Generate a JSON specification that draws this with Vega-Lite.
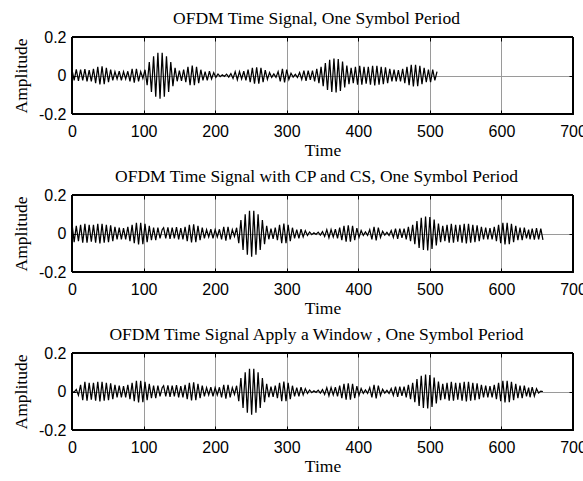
{
"$schema": "https://vega.github.io/schema/vega-lite/v6.json",
"background": "white",
"padding": {"left": 11, "top": 9, "right": 0, "bottom": 0},
"config": {
 "view": {"stroke": "black", "strokeWidth": 1},
 "axis": {"domain": true, "domainColor": "black", "domainWidth": 1, "ticks": true, "grid": false, "labelFont": "Liberation Sans", "labelFontSize": 16, "labelColor": "black", "tickColor": "black", "tickSize": -4, "titleFont": "Liberation Serif", "titleFontSize": 17.5, "titleFontWeight": "normal", "titleColor": "black", "labelFlush": false, "labelOverlap": false},
 "title": {"font": "Liberation Serif", "fontSize": 17.5, "fontWeight": "normal", "color": "black", "anchor": "middle", "frame": "group", "baseline": "alphabetic", "offset": 2, "dx": -6}
},
"datasets": {
"s1": [{"t":0,"a":0.03},{"t":3,"a":-0.025},{"t":6,"a":0.032},{"t":9,"a":-0.028},{"t":12,"a":0.03},{"t":15,"a":-0.025},{"t":18,"a":0.033},{"t":21,"a":-0.03},{"t":24,"a":0.028},{"t":27,"a":-0.03},{"t":30,"a":0.035},{"t":33,"a":-0.04},{"t":36,"a":0.045},{"t":39,"a":-0.047},{"t":42,"a":0.048},{"t":45,"a":-0.045},{"t":48,"a":0.04},{"t":51,"a":-0.035},{"t":54,"a":0.03},{"t":57,"a":-0.025},{"t":60,"a":0.02},{"t":63,"a":-0.018},{"t":66,"a":0.022},{"t":69,"a":-0.025},{"t":72,"a":0.02},{"t":75,"a":-0.018},{"t":78,"a":0.022},{"t":81,"a":-0.03},{"t":84,"a":0.035},{"t":87,"a":-0.037},{"t":90,"a":0.035},{"t":93,"a":-0.03},{"t":96,"a":0.02},{"t":99,"a":-0.015},{"t":102,"a":0.03},{"t":105,"a":-0.05},{"t":108,"a":0.07},{"t":111,"a":-0.085},{"t":114,"a":0.1},{"t":117,"a":-0.11},{"t":120,"a":0.118},{"t":123,"a":-0.12},{"t":126,"a":0.118},{"t":129,"a":-0.11},{"t":132,"a":0.1},{"t":135,"a":-0.085},{"t":138,"a":0.07},{"t":141,"a":-0.055},{"t":144,"a":0.04},{"t":147,"a":-0.03},{"t":150,"a":0.025},{"t":153,"a":-0.028},{"t":156,"a":0.03},{"t":159,"a":-0.035},{"t":162,"a":0.045},{"t":165,"a":-0.05},{"t":168,"a":0.052},{"t":171,"a":-0.05},{"t":174,"a":0.045},{"t":177,"a":-0.04},{"t":180,"a":0.03},{"t":183,"a":-0.025},{"t":186,"a":0.02},{"t":189,"a":-0.025},{"t":192,"a":0.022},{"t":195,"a":-0.018},{"t":198,"a":0.015},{"t":201,"a":-0.01},{"t":204,"a":0.008},{"t":207,"a":-0.006},{"t":210,"a":0.004},{"t":213,"a":-0.005},{"t":216,"a":0.007},{"t":219,"a":-0.008},{"t":222,"a":0.01},{"t":225,"a":-0.015},{"t":228,"a":0.02},{"t":231,"a":-0.022},{"t":234,"a":0.02},{"t":237,"a":-0.018},{"t":240,"a":0.022},{"t":243,"a":-0.025},{"t":246,"a":0.03},{"t":249,"a":-0.035},{"t":252,"a":0.04},{"t":255,"a":-0.042},{"t":258,"a":0.043},{"t":261,"a":-0.042},{"t":264,"a":0.04},{"t":267,"a":-0.035},{"t":270,"a":0.028},{"t":273,"a":-0.02},{"t":276,"a":0.015},{"t":279,"a":-0.01},{"t":282,"a":0.008},{"t":285,"a":-0.01},{"t":288,"a":0.02},{"t":291,"a":-0.03},{"t":294,"a":0.035},{"t":297,"a":-0.036},{"t":300,"a":0.03},{"t":303,"a":-0.02},{"t":306,"a":0.012},{"t":309,"a":-0.008},{"t":312,"a":0.006},{"t":315,"a":-0.01},{"t":318,"a":0.015},{"t":321,"a":-0.02},{"t":324,"a":0.025},{"t":327,"a":-0.028},{"t":330,"a":0.025},{"t":333,"a":-0.022},{"t":336,"a":0.025},{"t":339,"a":-0.03},{"t":342,"a":0.035},{"t":345,"a":-0.04},{"t":348,"a":0.045},{"t":351,"a":-0.055},{"t":354,"a":0.065},{"t":357,"a":-0.075},{"t":360,"a":0.082},{"t":363,"a":-0.086},{"t":366,"a":0.088},{"t":369,"a":-0.088},{"t":372,"a":0.085},{"t":375,"a":-0.08},{"t":378,"a":0.072},{"t":381,"a":-0.062},{"t":384,"a":0.052},{"t":387,"a":-0.045},{"t":390,"a":0.04},{"t":393,"a":-0.04},{"t":396,"a":0.045},{"t":399,"a":-0.048},{"t":402,"a":0.05},{"t":405,"a":-0.048},{"t":408,"a":0.045},{"t":411,"a":-0.042},{"t":414,"a":0.045},{"t":417,"a":-0.048},{"t":420,"a":0.05},{"t":423,"a":-0.052},{"t":426,"a":0.05},{"t":429,"a":-0.048},{"t":432,"a":0.045},{"t":435,"a":-0.045},{"t":438,"a":0.042},{"t":441,"a":-0.04},{"t":444,"a":0.035},{"t":447,"a":-0.03},{"t":450,"a":0.03},{"t":453,"a":-0.03},{"t":456,"a":0.028},{"t":459,"a":-0.03},{"t":462,"a":0.035},{"t":465,"a":-0.04},{"t":468,"a":0.045},{"t":471,"a":-0.05},{"t":474,"a":0.055},{"t":477,"a":-0.057},{"t":480,"a":0.056},{"t":483,"a":-0.055},{"t":486,"a":0.05},{"t":489,"a":-0.045},{"t":492,"a":0.04},{"t":495,"a":-0.035},{"t":498,"a":0.03},{"t":501,"a":-0.035},{"t":504,"a":0.03},{"t":507,"a":-0.025},{"t":510,"a":0.02}],
"s2": [{"t":0,"a":0.052},{"t":3,"a":-0.045},{"t":6,"a":0.04},{"t":9,"a":-0.04},{"t":12,"a":0.045},{"t":15,"a":-0.048},{"t":18,"a":0.05},{"t":21,"a":-0.048},{"t":24,"a":0.045},{"t":27,"a":-0.042},{"t":30,"a":0.045},{"t":33,"a":-0.048},{"t":36,"a":0.05},{"t":39,"a":-0.052},{"t":42,"a":0.05},{"t":45,"a":-0.048},{"t":48,"a":0.045},{"t":51,"a":-0.045},{"t":54,"a":0.042},{"t":57,"a":-0.04},{"t":60,"a":0.035},{"t":63,"a":-0.03},{"t":66,"a":0.03},{"t":69,"a":-0.03},{"t":72,"a":0.028},{"t":75,"a":-0.03},{"t":78,"a":0.035},{"t":81,"a":-0.04},{"t":84,"a":0.045},{"t":87,"a":-0.05},{"t":90,"a":0.055},{"t":93,"a":-0.057},{"t":96,"a":0.056},{"t":99,"a":-0.055},{"t":102,"a":0.05},{"t":105,"a":-0.045},{"t":108,"a":0.04},{"t":111,"a":-0.035},{"t":114,"a":0.03},{"t":117,"a":-0.035},{"t":120,"a":0.03},{"t":123,"a":-0.025},{"t":126,"a":0.02},{"t":128,"a":0.03},{"t":131,"a":-0.025},{"t":134,"a":0.032},{"t":137,"a":-0.028},{"t":140,"a":0.03},{"t":143,"a":-0.025},{"t":146,"a":0.033},{"t":149,"a":-0.03},{"t":152,"a":0.028},{"t":155,"a":-0.03},{"t":158,"a":0.035},{"t":161,"a":-0.04},{"t":164,"a":0.045},{"t":167,"a":-0.047},{"t":170,"a":0.048},{"t":173,"a":-0.045},{"t":176,"a":0.04},{"t":179,"a":-0.035},{"t":182,"a":0.03},{"t":185,"a":-0.025},{"t":188,"a":0.02},{"t":191,"a":-0.018},{"t":194,"a":0.022},{"t":197,"a":-0.025},{"t":200,"a":0.02},{"t":203,"a":-0.018},{"t":206,"a":0.022},{"t":209,"a":-0.03},{"t":212,"a":0.035},{"t":215,"a":-0.037},{"t":218,"a":0.035},{"t":221,"a":-0.03},{"t":224,"a":0.02},{"t":227,"a":-0.015},{"t":230,"a":0.03},{"t":233,"a":-0.05},{"t":236,"a":0.07},{"t":239,"a":-0.085},{"t":242,"a":0.1},{"t":245,"a":-0.11},{"t":248,"a":0.118},{"t":251,"a":-0.12},{"t":254,"a":0.118},{"t":257,"a":-0.11},{"t":260,"a":0.1},{"t":263,"a":-0.085},{"t":266,"a":0.07},{"t":269,"a":-0.055},{"t":272,"a":0.04},{"t":275,"a":-0.03},{"t":278,"a":0.025},{"t":281,"a":-0.028},{"t":284,"a":0.03},{"t":287,"a":-0.035},{"t":290,"a":0.045},{"t":293,"a":-0.05},{"t":296,"a":0.052},{"t":299,"a":-0.05},{"t":302,"a":0.045},{"t":305,"a":-0.04},{"t":308,"a":0.03},{"t":311,"a":-0.025},{"t":314,"a":0.02},{"t":317,"a":-0.025},{"t":320,"a":0.022},{"t":323,"a":-0.018},{"t":326,"a":0.015},{"t":329,"a":-0.01},{"t":332,"a":0.008},{"t":335,"a":-0.006},{"t":338,"a":0.004},{"t":341,"a":-0.005},{"t":344,"a":0.007},{"t":347,"a":-0.008},{"t":350,"a":0.01},{"t":353,"a":-0.015},{"t":356,"a":0.02},{"t":359,"a":-0.022},{"t":362,"a":0.02},{"t":365,"a":-0.018},{"t":368,"a":0.022},{"t":371,"a":-0.025},{"t":374,"a":0.03},{"t":377,"a":-0.035},{"t":380,"a":0.04},{"t":383,"a":-0.042},{"t":386,"a":0.043},{"t":389,"a":-0.042},{"t":392,"a":0.04},{"t":395,"a":-0.035},{"t":398,"a":0.028},{"t":401,"a":-0.02},{"t":404,"a":0.015},{"t":407,"a":-0.01},{"t":410,"a":0.008},{"t":413,"a":-0.01},{"t":416,"a":0.02},{"t":419,"a":-0.03},{"t":422,"a":0.035},{"t":425,"a":-0.036},{"t":428,"a":0.03},{"t":431,"a":-0.02},{"t":434,"a":0.012},{"t":437,"a":-0.008},{"t":440,"a":0.006},{"t":443,"a":-0.01},{"t":446,"a":0.015},{"t":449,"a":-0.02},{"t":452,"a":0.025},{"t":455,"a":-0.028},{"t":458,"a":0.025},{"t":461,"a":-0.022},{"t":464,"a":0.025},{"t":467,"a":-0.03},{"t":470,"a":0.035},{"t":473,"a":-0.04},{"t":476,"a":0.045},{"t":479,"a":-0.055},{"t":482,"a":0.065},{"t":485,"a":-0.075},{"t":488,"a":0.082},{"t":491,"a":-0.086},{"t":494,"a":0.088},{"t":497,"a":-0.088},{"t":500,"a":0.085},{"t":503,"a":-0.08},{"t":506,"a":0.072},{"t":509,"a":-0.062},{"t":512,"a":0.052},{"t":515,"a":-0.045},{"t":518,"a":0.04},{"t":521,"a":-0.04},{"t":524,"a":0.045},{"t":527,"a":-0.048},{"t":530,"a":0.05},{"t":533,"a":-0.048},{"t":536,"a":0.045},{"t":539,"a":-0.042},{"t":542,"a":0.045},{"t":545,"a":-0.048},{"t":548,"a":0.05},{"t":551,"a":-0.052},{"t":554,"a":0.05},{"t":557,"a":-0.048},{"t":560,"a":0.045},{"t":563,"a":-0.045},{"t":566,"a":0.042},{"t":569,"a":-0.04},{"t":572,"a":0.035},{"t":575,"a":-0.03},{"t":578,"a":0.03},{"t":581,"a":-0.03},{"t":584,"a":0.028},{"t":587,"a":-0.03},{"t":590,"a":0.035},{"t":593,"a":-0.04},{"t":596,"a":0.045},{"t":599,"a":-0.05},{"t":602,"a":0.055},{"t":605,"a":-0.057},{"t":608,"a":0.056},{"t":611,"a":-0.055},{"t":614,"a":0.05},{"t":617,"a":-0.045},{"t":620,"a":0.04},{"t":623,"a":-0.035},{"t":626,"a":0.03},{"t":629,"a":-0.035},{"t":632,"a":0.03},{"t":635,"a":-0.025},{"t":638,"a":0.02},{"t":640,"a":-0.03},{"t":643,"a":0.025},{"t":646,"a":-0.032},{"t":649,"a":0.028},{"t":652,"a":-0.03},{"t":655,"a":0.025},{"t":658,"a":-0.033}],
"s3": [{"t":0,"a":0},{"t":3,"a":-0.003},{"t":6,"a":0.01},{"t":9,"a":-0.02},{"t":12,"a":0.034},{"t":15,"a":-0.045},{"t":18,"a":0.05},{"t":21,"a":-0.048},{"t":24,"a":0.045},{"t":27,"a":-0.042},{"t":30,"a":0.045},{"t":33,"a":-0.048},{"t":36,"a":0.05},{"t":39,"a":-0.052},{"t":42,"a":0.05},{"t":45,"a":-0.048},{"t":48,"a":0.045},{"t":51,"a":-0.045},{"t":54,"a":0.042},{"t":57,"a":-0.04},{"t":60,"a":0.035},{"t":63,"a":-0.03},{"t":66,"a":0.03},{"t":69,"a":-0.03},{"t":72,"a":0.028},{"t":75,"a":-0.03},{"t":78,"a":0.035},{"t":81,"a":-0.04},{"t":84,"a":0.045},{"t":87,"a":-0.05},{"t":90,"a":0.055},{"t":93,"a":-0.057},{"t":96,"a":0.056},{"t":99,"a":-0.055},{"t":102,"a":0.05},{"t":105,"a":-0.045},{"t":108,"a":0.04},{"t":111,"a":-0.035},{"t":114,"a":0.03},{"t":117,"a":-0.035},{"t":120,"a":0.03},{"t":123,"a":-0.025},{"t":126,"a":0.02},{"t":128,"a":0.03},{"t":131,"a":-0.025},{"t":134,"a":0.032},{"t":137,"a":-0.028},{"t":140,"a":0.03},{"t":143,"a":-0.025},{"t":146,"a":0.033},{"t":149,"a":-0.03},{"t":152,"a":0.028},{"t":155,"a":-0.03},{"t":158,"a":0.035},{"t":161,"a":-0.04},{"t":164,"a":0.045},{"t":167,"a":-0.047},{"t":170,"a":0.048},{"t":173,"a":-0.045},{"t":176,"a":0.04},{"t":179,"a":-0.035},{"t":182,"a":0.03},{"t":185,"a":-0.025},{"t":188,"a":0.02},{"t":191,"a":-0.018},{"t":194,"a":0.022},{"t":197,"a":-0.025},{"t":200,"a":0.02},{"t":203,"a":-0.018},{"t":206,"a":0.022},{"t":209,"a":-0.03},{"t":212,"a":0.035},{"t":215,"a":-0.037},{"t":218,"a":0.035},{"t":221,"a":-0.03},{"t":224,"a":0.02},{"t":227,"a":-0.015},{"t":230,"a":0.03},{"t":233,"a":-0.05},{"t":236,"a":0.07},{"t":239,"a":-0.085},{"t":242,"a":0.1},{"t":245,"a":-0.11},{"t":248,"a":0.118},{"t":251,"a":-0.12},{"t":254,"a":0.118},{"t":257,"a":-0.11},{"t":260,"a":0.1},{"t":263,"a":-0.085},{"t":266,"a":0.07},{"t":269,"a":-0.055},{"t":272,"a":0.04},{"t":275,"a":-0.03},{"t":278,"a":0.025},{"t":281,"a":-0.028},{"t":284,"a":0.03},{"t":287,"a":-0.035},{"t":290,"a":0.045},{"t":293,"a":-0.05},{"t":296,"a":0.052},{"t":299,"a":-0.05},{"t":302,"a":0.045},{"t":305,"a":-0.04},{"t":308,"a":0.03},{"t":311,"a":-0.025},{"t":314,"a":0.02},{"t":317,"a":-0.025},{"t":320,"a":0.022},{"t":323,"a":-0.018},{"t":326,"a":0.015},{"t":329,"a":-0.01},{"t":332,"a":0.008},{"t":335,"a":-0.006},{"t":338,"a":0.004},{"t":341,"a":-0.005},{"t":344,"a":0.007},{"t":347,"a":-0.008},{"t":350,"a":0.01},{"t":353,"a":-0.015},{"t":356,"a":0.02},{"t":359,"a":-0.022},{"t":362,"a":0.02},{"t":365,"a":-0.018},{"t":368,"a":0.022},{"t":371,"a":-0.025},{"t":374,"a":0.03},{"t":377,"a":-0.035},{"t":380,"a":0.04},{"t":383,"a":-0.042},{"t":386,"a":0.043},{"t":389,"a":-0.042},{"t":392,"a":0.04},{"t":395,"a":-0.035},{"t":398,"a":0.028},{"t":401,"a":-0.02},{"t":404,"a":0.015},{"t":407,"a":-0.01},{"t":410,"a":0.008},{"t":413,"a":-0.01},{"t":416,"a":0.02},{"t":419,"a":-0.03},{"t":422,"a":0.035},{"t":425,"a":-0.036},{"t":428,"a":0.03},{"t":431,"a":-0.02},{"t":434,"a":0.012},{"t":437,"a":-0.008},{"t":440,"a":0.006},{"t":443,"a":-0.01},{"t":446,"a":0.015},{"t":449,"a":-0.02},{"t":452,"a":0.025},{"t":455,"a":-0.028},{"t":458,"a":0.025},{"t":461,"a":-0.022},{"t":464,"a":0.025},{"t":467,"a":-0.03},{"t":470,"a":0.035},{"t":473,"a":-0.04},{"t":476,"a":0.045},{"t":479,"a":-0.055},{"t":482,"a":0.065},{"t":485,"a":-0.075},{"t":488,"a":0.082},{"t":491,"a":-0.086},{"t":494,"a":0.088},{"t":497,"a":-0.088},{"t":500,"a":0.085},{"t":503,"a":-0.08},{"t":506,"a":0.072},{"t":509,"a":-0.062},{"t":512,"a":0.052},{"t":515,"a":-0.045},{"t":518,"a":0.04},{"t":521,"a":-0.04},{"t":524,"a":0.045},{"t":527,"a":-0.048},{"t":530,"a":0.05},{"t":533,"a":-0.048},{"t":536,"a":0.045},{"t":539,"a":-0.042},{"t":542,"a":0.045},{"t":545,"a":-0.048},{"t":548,"a":0.05},{"t":551,"a":-0.052},{"t":554,"a":0.05},{"t":557,"a":-0.048},{"t":560,"a":0.045},{"t":563,"a":-0.045},{"t":566,"a":0.042},{"t":569,"a":-0.04},{"t":572,"a":0.035},{"t":575,"a":-0.03},{"t":578,"a":0.03},{"t":581,"a":-0.03},{"t":584,"a":0.028},{"t":587,"a":-0.03},{"t":590,"a":0.035},{"t":593,"a":-0.04},{"t":596,"a":0.045},{"t":599,"a":-0.05},{"t":602,"a":0.055},{"t":605,"a":-0.057},{"t":608,"a":0.056},{"t":611,"a":-0.055},{"t":614,"a":0.05},{"t":617,"a":-0.045},{"t":620,"a":0.04},{"t":623,"a":-0.035},{"t":626,"a":0.03},{"t":629,"a":-0.035},{"t":632,"a":0.03},{"t":635,"a":-0.025},{"t":638,"a":0.02},{"t":640,"a":-0.03},{"t":643,"a":0.023},{"t":646,"a":-0.024},{"t":649,"a":0.014},{"t":652,"a":-0.008},{"t":655,"a":0.002},{"t":658,"a":0}]
},
"bounds": "flush",
"spacing": 81,
"vconcat": [
 {"width": 501, "height": 77, "title": "OFDM Time Signal, One Symbol Period", "data": {"name": "s1"},
  "resolve": {"axis": {"x": "independent", "y": "independent"}},
  "layer": [
   {"mark": {"type": "line", "color": "black", "strokeWidth": 1.25},
    "encoding": {
     "x": {"field": "t", "type": "quantitative", "scale": {"domain": [0, 700], "nice": false, "zero": false}, "axis": {"orient": "bottom", "values": [0,100,200,300,400,500,600,700], "grid": true, "gridColor": "#9a9a9a", "title": "Time", "titleY": 41, "titleBaseline": "alphabetic", "labelPadding": 13}},
     "y": {"field": "a", "type": "quantitative", "scale": {"domain": [-0.2, 0.2], "nice": false}, "axis": {"orient": "left", "values": [-0.2, 0, 0.2], "grid": true, "gridColor": "#9a9a9a", "title": "Amplitude", "titleX": -46, "titleY": 38.5, "titleBaseline": "alphabetic", "labelPadding": 10, "format": ".1~f", "labelExpr": "replace(datum.label, '\u2212', '-')"}}
    }},
   {"mark": {"type": "rect", "filled": false, "stroke": "black", "strokeWidth": 1},
    "encoding": {
     "x": {"datum": 0, "type": "quantitative", "scale": {"domain": [0, 700], "nice": false, "zero": false}, "axis": {"orient": "top", "values": [0,100,200,300,400,500,600,700], "labels": false, "title": null, "grid": false}},
     "x2": {"datum": 700},
     "y": {"datum": -0.2, "type": "quantitative", "scale": {"domain": [-0.2, 0.2], "nice": false}, "axis": {"orient": "right", "values": [-0.2, 0, 0.2], "labels": false, "title": null, "grid": false}},
     "y2": {"datum": 0.2}
    }}
  ]},
 {"width": 501, "height": 77, "title": "OFDM Time Signal with CP and CS, One Symbol Period", "data": {"name": "s2"},
  "resolve": {"axis": {"x": "independent", "y": "independent"}},
  "layer": [
   {"mark": {"type": "line", "color": "black", "strokeWidth": 1.25},
    "encoding": {
     "x": {"field": "t", "type": "quantitative", "scale": {"domain": [0, 700], "nice": false, "zero": false}, "axis": {"orient": "bottom", "values": [0,100,200,300,400,500,600,700], "grid": true, "gridColor": "#9a9a9a", "title": "Time", "titleY": 41, "titleBaseline": "alphabetic", "labelPadding": 13}},
     "y": {"field": "a", "type": "quantitative", "scale": {"domain": [-0.2, 0.2], "nice": false}, "axis": {"orient": "left", "values": [-0.2, 0, 0.2], "grid": true, "gridColor": "#9a9a9a", "title": "Amplitude", "titleX": -46, "titleY": 38.5, "titleBaseline": "alphabetic", "labelPadding": 10, "format": ".1~f", "labelExpr": "replace(datum.label, '\u2212', '-')"}}
    }},
   {"mark": {"type": "rect", "filled": false, "stroke": "black", "strokeWidth": 1},
    "encoding": {
     "x": {"datum": 0, "type": "quantitative", "scale": {"domain": [0, 700], "nice": false, "zero": false}, "axis": {"orient": "top", "values": [0,100,200,300,400,500,600,700], "labels": false, "title": null, "grid": false}},
     "x2": {"datum": 700},
     "y": {"datum": -0.2, "type": "quantitative", "scale": {"domain": [-0.2, 0.2], "nice": false}, "axis": {"orient": "right", "values": [-0.2, 0, 0.2], "labels": false, "title": null, "grid": false}},
     "y2": {"datum": 0.2}
    }}
  ]},
 {"width": 501, "height": 77, "title": "OFDM Time Signal Apply a Window , One Symbol Period", "data": {"name": "s3"},
  "resolve": {"axis": {"x": "independent", "y": "independent"}},
  "layer": [
   {"mark": {"type": "line", "color": "black", "strokeWidth": 1.25},
    "encoding": {
     "x": {"field": "t", "type": "quantitative", "scale": {"domain": [0, 700], "nice": false, "zero": false}, "axis": {"orient": "bottom", "values": [0,100,200,300,400,500,600,700], "grid": true, "gridColor": "#9a9a9a", "title": "Time", "titleY": 41, "titleBaseline": "alphabetic", "labelPadding": 13}},
     "y": {"field": "a", "type": "quantitative", "scale": {"domain": [-0.2, 0.2], "nice": false}, "axis": {"orient": "left", "values": [-0.2, 0, 0.2], "grid": true, "gridColor": "#9a9a9a", "title": "Amplitude", "titleX": -46, "titleY": 38.5, "titleBaseline": "alphabetic", "labelPadding": 10, "format": ".1~f", "labelExpr": "replace(datum.label, '\u2212', '-')"}}
    }},
   {"mark": {"type": "rect", "filled": false, "stroke": "black", "strokeWidth": 1},
    "encoding": {
     "x": {"datum": 0, "type": "quantitative", "scale": {"domain": [0, 700], "nice": false, "zero": false}, "axis": {"orient": "top", "values": [0,100,200,300,400,500,600,700], "labels": false, "title": null, "grid": false}},
     "x2": {"datum": 700},
     "y": {"datum": -0.2, "type": "quantitative", "scale": {"domain": [-0.2, 0.2], "nice": false}, "axis": {"orient": "right", "values": [-0.2, 0, 0.2], "labels": false, "title": null, "grid": false}},
     "y2": {"datum": 0.2}
    }}
  ]}
]
}
